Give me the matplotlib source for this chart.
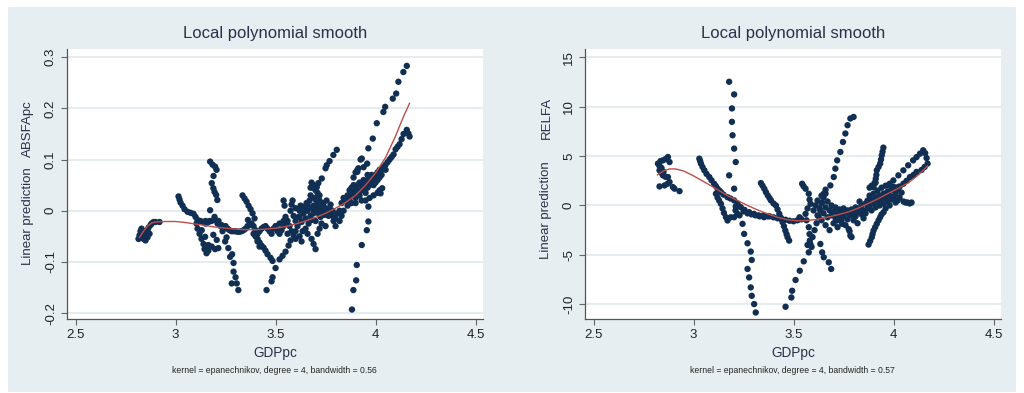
import numpy as np
import matplotlib.pyplot as plt

plt.rcParams['font.family'] = ['Liberation Sans', 'DejaVu Sans']

# ---- data ----
# left panel: GDPpc vs ABSFApc
absfa_points = [
    # far left group
    (2.815, -0.055), (2.82, -0.048), (2.825, -0.040), (2.83, -0.035), (2.83, -0.050),
    (2.835, -0.045), (2.84, -0.055), (2.845, -0.040), (2.85, -0.050), (2.85, -0.058),
    (2.855, -0.045), (2.86, -0.038), (2.86, -0.052), (2.865, -0.033), (2.87, -0.045),
    (2.875, -0.028), (2.88, -0.025), (2.89, -0.022), (2.90, -0.022), (2.92, -0.022),
    # chain from 3.02
    (3.015, 0.028), (3.02, 0.022), (3.025, 0.016), (3.035, 0.010), (3.045, 0.003),
    (3.06, -0.002), (3.075, -0.004), (3.09, -0.006), (3.10, -0.012), (3.11, -0.018),
    (3.125, -0.020), (3.14, -0.022), (3.15, -0.025), (3.165, -0.022),
    (3.105, -0.025), (3.11, -0.035), (3.12, -0.045), (3.13, -0.055), (3.14, -0.065),
    (3.145, -0.075), (3.155, -0.083), (3.164, -0.078),
    (3.131, -0.038), (3.148, -0.051), (3.164, -0.067), (3.181, -0.070), (3.214, -0.073),
    (3.206, -0.057), (3.189, -0.047), (3.198, -0.075),
    # near-vertical at 3.18
    (3.173, 0.096), (3.185, 0.090), (3.198, 0.086), (3.205, 0.080), (3.19, 0.068),
    (3.181, 0.054), (3.189, 0.044), (3.195, 0.037), (3.203, 0.031), (3.209, 0.021),
    (3.173, 0.001), (3.195, -0.012),
    # chain down to -0.155
    (3.215, -0.020), (3.225, -0.030), (3.235, -0.040), (3.248, -0.060), (3.255, -0.052),
    (3.264, -0.073), (3.273, -0.090), (3.283, -0.085), (3.29, -0.102), (3.29, -0.119),
    (3.281, -0.142), (3.306, -0.142), (3.314, -0.155), (3.30, -0.130),
    # flat band
    (3.15, -0.020), (3.17, -0.020), (3.18, -0.020), (3.20, -0.018), (3.21, -0.025),
    (3.23, -0.028), (3.25, -0.030), (3.26, -0.035), (3.27, -0.038), (3.28, -0.040),
    (3.29, -0.040), (3.30, -0.040), (3.31, -0.041), (3.32, -0.041), (3.33, -0.040),
    (3.34, -0.038), (3.35, -0.035), (3.36, -0.030), (3.37, -0.028), (3.38, -0.025),
    (3.39, -0.030), (3.40, -0.038), (3.41, -0.045), (3.42, -0.040), (3.43, -0.035),
    (3.44, -0.032), (3.45, -0.030), (3.46, -0.035), (3.47, -0.040), (3.48, -0.045),
    (3.49, -0.035), (3.50, -0.030), (3.51, -0.040), (3.52, -0.045), (3.53, -0.038),
    (3.54, -0.030), (3.55, -0.025), (3.362, -0.018),
    # chain from 3.34
    (3.335, 0.030), (3.345, 0.024), (3.355, 0.018), (3.365, 0.010), (3.375, 0.003),
    (3.385, -0.005), (3.395, -0.015), (3.40, -0.048), (3.41, -0.055), (3.42, -0.062),
    (3.43, -0.068), (3.44, -0.072), (3.45, -0.078), (3.46, -0.085), (3.475, -0.092),
    (3.485, -0.098), (3.39, -0.045), (3.40, -0.050), (3.41, -0.060), (3.42, -0.070),
    # rising chain from -0.155
    (3.455, -0.155), (3.48, -0.138), (3.485, -0.130), (3.50, -0.112), (3.52, -0.095),
    (3.535, -0.088), (3.55, -0.080), (3.565, -0.068), (3.575, -0.058), (3.59, -0.048),
    (3.60, -0.040),
    # dense middle cluster
    (3.52, -0.025), (3.54, -0.020), (3.55, -0.012), (3.56, -0.020), (3.57, -0.030),
    (3.575, 0.000), (3.58, 0.012), (3.585, 0.020), (3.59, -0.010), (3.60, -0.020),
    (3.60, 0.005), (3.61, -0.030), (3.615, -0.012), (3.62, 0.000), (3.625, 0.010),
    (3.63, -0.022), (3.635, -0.040), (3.64, -0.005), (3.645, 0.008), (3.65, -0.015),
    (3.655, 0.015), (3.66, 0.000), (3.665, -0.025), (3.67, 0.020), (3.675, 0.030),
    (3.675, -0.010), (3.68, 0.005), (3.685, 0.045), (3.69, -0.005), (3.69, 0.010),
    (3.695, 0.025), (3.70, 0.000), (3.70, -0.020), (3.705, 0.012), (3.71, 0.035),
    (3.715, -0.005), (3.72, 0.005), (3.72, 0.020), (3.725, -0.012), (3.73, 0.010),
    (3.735, 0.000), (3.74, 0.015), (3.745, -0.008), (3.75, 0.005), (3.755, 0.020),
    (3.76, 0.000), (3.765, -0.010), (3.77, 0.005), (3.775, 0.012), (3.78, -0.005),
    (3.785, 0.000), (3.79, -0.012), (3.80, -0.015), (3.81, -0.005), (3.82, 0.000),
    (3.83, 0.015), (3.84, 0.025), (3.85, 0.020),
    (3.56, -0.045), (3.58, -0.040), (3.60, -0.055), (3.62, -0.050), (3.63, -0.060),
    (3.65, -0.035), (3.66, -0.045), (3.68, -0.055), (3.69, -0.065), (3.70, -0.075),
    (3.71, -0.045), (3.72, -0.035), (3.73, -0.025), (3.75, -0.030), (3.64, 0.000),
    (3.54, 0.020), (3.545, 0.010), (3.68, 0.055), (3.675, 0.045), (3.69, 0.050),
    (3.70, 0.040), (3.72, 0.030), (3.79, -0.020), (3.80, -0.030), (3.82, -0.020),
    (3.83, -0.010), (3.66, 0.012), (3.68, -0.018), (3.71, 0.008), (3.73, -0.008),
    (3.65, 0.003), (3.70, 0.022), (3.74, 0.004), (3.62, -0.012),
    # chain rising to 0.115
    (3.706, 0.046), (3.714, 0.054), (3.731, 0.063), (3.75, 0.083), (3.756, 0.089),
    (3.77, 0.097), (3.789, 0.109), (3.806, 0.119),
    # right band
    (3.86, 0.030), (3.87, 0.040), (3.87, 0.020), (3.88, 0.045), (3.88, 0.030),
    (3.89, 0.050), (3.89, 0.035), (3.90, 0.045), (3.90, 0.025), (3.91, 0.050),
    (3.91, 0.040), (3.92, 0.055), (3.92, 0.030), (3.93, 0.050), (3.93, 0.040),
    (3.94, 0.060), (3.94, 0.045), (3.95, 0.055), (3.95, 0.035), (3.96, 0.060),
    (3.96, 0.045), (3.97, 0.065), (3.97, 0.050), (3.98, 0.060), (3.98, 0.070),
    (3.99, 0.065), (3.99, 0.050), (4.00, 0.070), (4.00, 0.055), (4.01, 0.075),
    (4.01, 0.060), (4.02, 0.080), (4.02, 0.065), (4.03, 0.080), (4.03, 0.070),
    (4.04, 0.085), (4.05, 0.090), (4.05, 0.080), (4.06, 0.095), (4.07, 0.100),
    (4.08, 0.105), (4.09, 0.110), (4.10, 0.120), (4.11, 0.125), (4.12, 0.130),
    (4.13, 0.140), (4.14, 0.150), (4.156, 0.158), (4.164, 0.151), (4.17, 0.145),
    (3.84, 0.000), (3.86, 0.010), (3.88, 0.015), (3.90, 0.015), (3.93, 0.020),
    (3.95, 0.020), (3.97, 0.025), (3.99, 0.030), (4.01, 0.035), (4.02, 0.040),
    (4.025, 0.034), (4.033, 0.044),
    (3.89, 0.065), (3.90, 0.075), (3.908, 0.079), (3.925, 0.100), (3.94, 0.085),
    (3.958, 0.092), (3.96, 0.070),
    # near-vertical at 3.88
    (3.882, -0.193), (3.889, -0.155), (3.903, -0.136), (3.906, -0.106), (3.931, -0.067),
    (3.956, -0.038), (3.964, -0.021), (3.964, 0.008),
    # upper chain
    (3.909, 0.076), (3.914, 0.083), (3.931, 0.102), (3.964, 0.122), (3.986, 0.141),
    (4.006, 0.171), (4.039, 0.193), (4.048, 0.203), (4.086, 0.219), (4.103, 0.229),
    (4.114, 0.252), (4.139, 0.271), (4.156, 0.283),
]
absfa_smooth_x = [2.82, 2.84, 2.86, 2.88, 2.90, 2.95, 3.00, 3.05, 3.10, 3.15, 3.20, 3.25,
                  3.30, 3.35, 3.40, 3.45, 3.50, 3.55, 3.60, 3.65, 3.70, 3.75, 3.80, 3.85,
                  3.90, 3.95, 4.00, 4.05, 4.10, 4.13, 4.15, 4.17]
absfa_smooth_y = [-0.052, -0.040, -0.030, -0.024, -0.022, -0.021, -0.021, -0.023, -0.026,
                  -0.029, -0.032, -0.034, -0.036, -0.037, -0.037, -0.036, -0.034, -0.031,
                  -0.026, -0.020, -0.013, -0.005, 0.005, 0.016, 0.030, 0.050, 0.074,
                  0.104, 0.146, 0.175, 0.193, 0.210]

# right panel: GDPpc vs RELFA
relfa_points = [
    # far left group
    (2.822, 4.24), (2.83, 4.0), (2.835, 4.5), (2.847, 4.57), (2.86, 4.7), (2.872, 4.91),
    (2.88, 4.4), (2.83, 3.56), (2.84, 3.3), (2.847, 3.05), (2.86, 2.9), (2.872, 2.88),
    (2.88, 2.37), (2.83, 1.93), (2.855, 2.03), (2.87, 2.2), (2.897, 1.86), (2.905, 1.7),
    (2.93, 1.45), (2.84, 3.8), (2.85, 3.4),
    # chain from 3.03
    (3.029, 4.74), (3.033, 4.5), (3.037, 4.24), (3.045, 3.9), (3.054, 3.56), (3.065, 3.2),
    (3.079, 2.88), (3.09, 2.55), (3.103, 2.2), (3.112, 1.95), (3.12, 1.7), (3.13, 1.5),
    (3.137, 1.35), (3.15, 1.1), (3.17, 0.84), (3.185, 0.7), (3.203, 0.51), (3.22, 0.2),
    (3.236, -0.17), (3.255, -0.45), (3.278, -0.68), (3.302, -0.85), (3.325, -1.0),
    (3.352, -1.19), (3.37, -1.1),
    (3.112, 1.19), (3.12, 0.8), (3.128, 0.5), (3.137, 0.17), (3.145, -0.3), (3.152, -0.75),
    (3.162, -1.19), (3.17, -1.52), (3.185, -1.2), (3.203, -1.19), (3.22, -0.85), (3.21, -0.5),
    # near-vertical at 3.18
    (3.178, 12.53), (3.203, 11.25), (3.192, 9.83), (3.192, 8.47), (3.195, 7.11),
    (3.203, 5.76), (3.211, 4.4), (3.178, 3.05), (3.203, 1.7), (3.211, -0.10), (3.23, -1.0),
    (3.245, -1.86), (3.253, -2.88), (3.27, -3.83), (3.286, -4.67), (3.291, -5.52),
    (3.27, -6.43), (3.278, -7.29), (3.286, -8.3), (3.291, -9.15), (3.303, -9.99),
    (3.311, -10.84),
    # chain from 3.34
    (3.337, 2.27), (3.345, 2.0), (3.354, 1.69), (3.362, 1.35), (3.371, 1.02), (3.38, 0.75),
    (3.387, 0.51), (3.40, 0.2), (3.412, 0.0), (3.42, -0.4), (3.429, -0.85), (3.437, -1.25),
    (3.445, -1.69), (3.452, -2.1), (3.459, -2.54), (3.465, -2.9), (3.47, -3.22),
    (3.478, -3.56),
    # band near the minimum
    (3.25, -0.6), (3.27, -0.8), (3.29, -0.9), (3.31, -1.0), (3.33, -1.1), (3.35, -1.0),
    (3.38, -1.1), (3.40, -1.2), (3.42, -1.3), (3.44, -1.4), (3.46, -1.45), (3.48, -1.55),
    (3.50, -1.6), (3.52, -1.5), (3.53, -1.2), (3.54, -1.4),
    # rising chain from -10
    (3.46, -10.26), (3.489, -9.32), (3.493, -8.64), (3.51, -7.55), (3.531, -6.61),
    (3.551, -5.66), (3.576, -4.75), (3.584, -3.9), (3.595, -3.2), (3.605, -2.5),
    (3.615, -1.8), (3.625, -1.1), (3.634, -0.51), (3.642, 0.3), (3.651, 1.19), (3.66, 1.6),
    (3.684, 2.03), (3.701, 2.88), (3.709, 3.73), (3.718, 4.57), (3.734, 5.42),
    (3.747, 6.43), (3.759, 7.29), (3.77, 8.13), (3.784, 8.81), (3.8, 8.97),
    # falling tail
    (3.634, -3.9), (3.643, -4.75), (3.651, -5.25), (3.676, -5.76), (3.688, -6.43),
    # chain near 3.56
    (3.543, 2.2), (3.55, 1.95), (3.56, 1.7), (3.576, 1.19), (3.58, 0.6), (3.585, 0.17),
    (3.57, -0.3), (3.56, -0.85), (3.565, -1.5), (3.576, -2.2), (3.58, -2.9), (3.581, -3.56),
    (3.59, -4.2), (3.57, -4.0),
    # dense band 3.6 - 3.86
    (3.60, -0.5), (3.61, 0.0), (3.62, -1.0), (3.62, 0.5), (3.63, -0.3), (3.64, -1.5),
    (3.64, 0.2), (3.65, -0.8), (3.66, -0.2), (3.66, -2.0), (3.67, -1.2), (3.67, 0.4),
    (3.68, -0.5), (3.68, -2.5), (3.69, -1.0), (3.69, 0.0), (3.70, -0.6), (3.70, -1.8),
    (3.71, -0.2), (3.71, -1.3), (3.72, -0.8), (3.72, -2.2), (3.73, -0.4), (3.73, -1.0),
    (3.74, -0.6), (3.74, -1.5), (3.75, -0.3), (3.75, -1.1), (3.76, -0.7), (3.76, -2.0),
    (3.77, -0.5), (3.77, -1.4), (3.78, -0.9), (3.78, -2.6), (3.79, -0.4), (3.79, -1.0),
    (3.80, -0.6), (3.80, -1.5), (3.81, -0.2), (3.81, -1.1), (3.82, -0.7), (3.82, -1.8),
    (3.83, -0.3), (3.83, 0.4), (3.84, -0.9), (3.84, 0.0), (3.85, -0.5), (3.85, -1.3),
    (3.86, 0.2), (3.86, -0.8), (3.784, -3.05), (3.776, -2.4), (3.743, -1.86),
    (3.718, -1.52), (3.79, -3.2), (3.65, 0.8), (3.66, 1.2), (3.64, 1.0),
    # dense band 3.87 - 4.09
    (3.87, 0.5), (3.87, -0.3), (3.88, 1.0), (3.88, 0.0), (3.89, 0.6), (3.89, -0.5),
    (3.90, 1.2), (3.90, 0.2), (3.91, 0.8), (3.91, -0.2), (3.92, 1.5), (3.92, 0.4),
    (3.93, 1.0), (3.93, 0.0), (3.94, 1.8), (3.94, 0.6), (3.95, 1.2), (3.95, 0.2),
    (3.96, 2.0), (3.96, 0.8), (3.96, -0.3), (3.97, 1.4), (3.97, 0.4), (3.98, 2.2),
    (3.98, 1.0), (3.98, 0.0), (3.99, 1.6), (3.99, 0.6), (4.00, 1.9), (4.00, 0.9),
    (4.01, 1.2), (4.01, 0.3), (4.02, 1.6), (4.02, 0.5), (4.03, 1.9), (4.03, 0.8),
    (4.04, 1.3), (4.05, 0.4), (4.06, 0.3), (4.07, 0.3), (4.08, 0.2), (4.09, 0.3),
    (3.88, 1.8), (3.89, 2.0), (3.91, 2.3),
    # loop to the upper right
    (3.974, 2.03), (3.999, 2.54), (4.024, 3.05), (4.049, 3.56), (4.073, 4.07),
    (4.098, 4.57), (4.115, 4.9), (4.132, 5.25), (4.148, 5.59), (4.158, 5.3), (4.165, 4.8),
    (4.17, 4.24), (4.155, 3.9), (4.14, 3.6), (4.115, 3.4), (4.10, 3.1), (4.082, 2.88),
    (4.065, 2.5), (4.049, 2.2), (4.025, 1.9), (4.00, 1.6),
    # chain at 3.95 up to 5.9
    (3.949, 5.86), (3.945, 5.45), (3.941, 5.08), (3.937, 4.65), (3.933, 4.24),
    (3.925, 3.9), (3.916, 3.56), (3.914, 3.1), (3.911, 2.71), (3.905, 2.3), (3.90, 1.86),
    # chain from -4 at 3.88
    (3.875, -3.96), (3.883, -3.6), (3.891, -3.22), (3.895, -2.9), (3.90, -2.54),
    (3.908, -2.2), (3.916, -1.86), (3.925, -1.5), (3.933, -1.19), (3.94, -0.9),
    (3.95, -0.68),
]
relfa_smooth_x = [2.82, 2.85, 2.88, 2.91, 2.95, 3.00, 3.07, 3.12, 3.17, 3.22, 3.27, 3.32,
                  3.37, 3.42, 3.47, 3.52, 3.57, 3.62, 3.67, 3.72, 3.77, 3.82, 3.87, 3.92,
                  3.97, 4.02, 4.07, 4.10, 4.13, 4.15, 4.17]
relfa_smooth_y = [3.1, 3.5, 3.7, 3.7, 3.5, 3.0, 2.2, 1.6, 1.0, 0.5, 0.0, -0.45, -0.85, -1.2,
                  -1.45, -1.55, -1.52, -1.4, -1.19, -0.95, -0.68, -0.3, 0.17, 0.65, 1.19,
                  1.7, 2.25, 2.7, 3.2, 3.6, 4.0]

panels = [
    dict(points=absfa_points, sx=absfa_smooth_x, sy=absfa_smooth_y, var='ABSFApc',
         yticks=[-0.2, -0.1, 0, 0.1, 0.2, 0.3], ylim=(-0.2115, 0.316),
         bw='0.56', left=66.7, var_y=0.706, lp_y=0.38),
    dict(points=relfa_points, sx=relfa_smooth_x, sy=relfa_smooth_y, var='RELFA',
         yticks=[-10, -5, 0, 5, 10, 15], ylim=(-11.5, 15.85),
         bw='0.57', left=584.7, var_y=0.744, lp_y=0.402),
]

W, H = 1024, 393
fig = plt.figure(figsize=(W / 100, H / 100), dpi=100)
fig.patch.set_facecolor('white')
bg = '#e7eef1'
fig.patches.append(plt.Rectangle((8 / W, 1 / H), 1008 / W, 385 / H,
                                 transform=fig.transFigure, facecolor=bg,
                                 edgecolor='none', zorder=-10))

navy = '#112f52'
red = '#bf4d4a'
txt = '#2a3148'

for p in panels:
    ax = fig.add_axes([p['left'] / W, 1 - 319 / H, 416.3 / W, 270 / H])
    ax.set_facecolor('white')
    for yt in p['yticks']:
        ax.axhline(yt, color='#e2ebef', lw=1.3, zorder=0)
    pts = np.array(p['points'])
    ax.scatter(pts[:, 0], pts[:, 1], s=21, color=navy, edgecolors='none', zorder=2)
    ax.plot(p['sx'], p['sy'], color=red, lw=1.0, zorder=3)

    ax.set_xlim(2.456, 4.537)
    ax.set_ylim(*p['ylim'])
    ax.set_xticks([2.5, 3, 3.5, 4, 4.5])
    ax.set_xticklabels(['2.5', '3', '3.5', '4', '4.5'])
    ax.set_yticks(p['yticks'])
    ax.set_yticklabels([f'{t:g}' for t in p['yticks']], rotation=90, va='center')
    ax.tick_params(length=4, width=0.8, color='#666666', labelsize=9.5,
                   labelcolor='#222222', pad=3)
    for s in ['top', 'right']:
        ax.spines[s].set_visible(False)
    for s in ['left', 'bottom']:
        ax.spines[s].set_color('#555555')
        ax.spines[s].set_linewidth(0.9)

    ax.text(0.5, 1.058, 'Local polynomial smooth', transform=ax.transAxes,
            ha='center', va='center', fontsize=12, color=txt)
    ax.text(0.5, -0.126, 'GDPpc', transform=ax.transAxes, ha='center', va='center',
            fontsize=9.8, color=txt)
    ax.text(0.5, -0.19, 'kernel = epanechnikov, degree = 4, bandwidth = ' + p['bw'],
            transform=ax.transAxes, ha='center', va='center', fontsize=6.2, color='#222222')
    ax.text(-0.092, p['lp_y'], 'Linear prediction', transform=ax.transAxes, rotation=90,
            ha='center', va='center', fontsize=9.5, color=txt)
    ax.text(-0.092, p['var_y'], p['var'], transform=ax.transAxes, rotation=90,
            ha='center', va='center', fontsize=9.5, color=txt)

fig.savefig('out.png', dpi=100, facecolor='white')
